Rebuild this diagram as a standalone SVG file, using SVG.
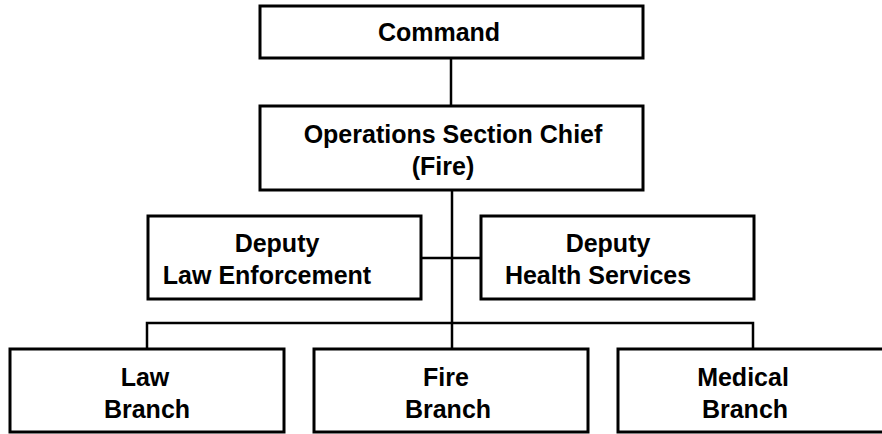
<svg xmlns="http://www.w3.org/2000/svg" width="882" height="434" viewBox="0 0 882 434">
<style>
.box{fill:#fff;stroke:#000;stroke-width:3}
.ln{fill:none;stroke:#000;stroke-width:2.5}
text{font-family:"Liberation Sans",Arial,sans-serif;font-weight:bold;font-size:25px;fill:#000;text-anchor:middle}
</style>
<rect width="882" height="434" fill="#fff"/>
<g id="connectors">
<line class="ln" x1="451" y1="58" x2="451" y2="106"/>
<line class="ln" x1="452" y1="190" x2="452" y2="349"/>
<line class="ln" x1="421" y1="258" x2="481" y2="258"/>
<polyline class="ln" points="147,349 147,323 753,323 753,349"/>
</g>
<g id="command">
<rect class="box" x="260" y="6" width="383" height="52"/>
<text x="439" y="41">Command</text>
</g>
<g id="ops">
<rect class="box" x="260" y="106" width="383" height="84"/>
<text x="453" y="143">Operations Section Chief</text>
<text x="443" y="175">(Fire)</text>
</g>
<g id="deputy-law">
<rect class="box" x="148" y="216" width="273" height="83"/>
<text x="277" y="252">Deputy</text>
<text x="267" y="284">Law Enforcement</text>
</g>
<g id="deputy-health">
<rect class="box" x="481" y="216" width="273" height="83"/>
<text x="608" y="252">Deputy</text>
<text x="598" y="284">Health Services</text>
</g>
<g id="law-branch">
<rect class="box" x="10" y="349" width="274" height="83"/>
<text x="145" y="386">Law</text>
<text x="147" y="418">Branch</text>
</g>
<g id="fire-branch">
<rect class="box" x="314" y="349" width="274" height="83"/>
<text x="446" y="386">Fire</text>
<text x="448" y="418">Branch</text>
</g>
<g id="medical-branch">
<rect class="box" x="618" y="349" width="270" height="83"/>
<text x="743" y="386">Medical</text>
<text x="745" y="418">Branch</text>
</g>
</svg>
